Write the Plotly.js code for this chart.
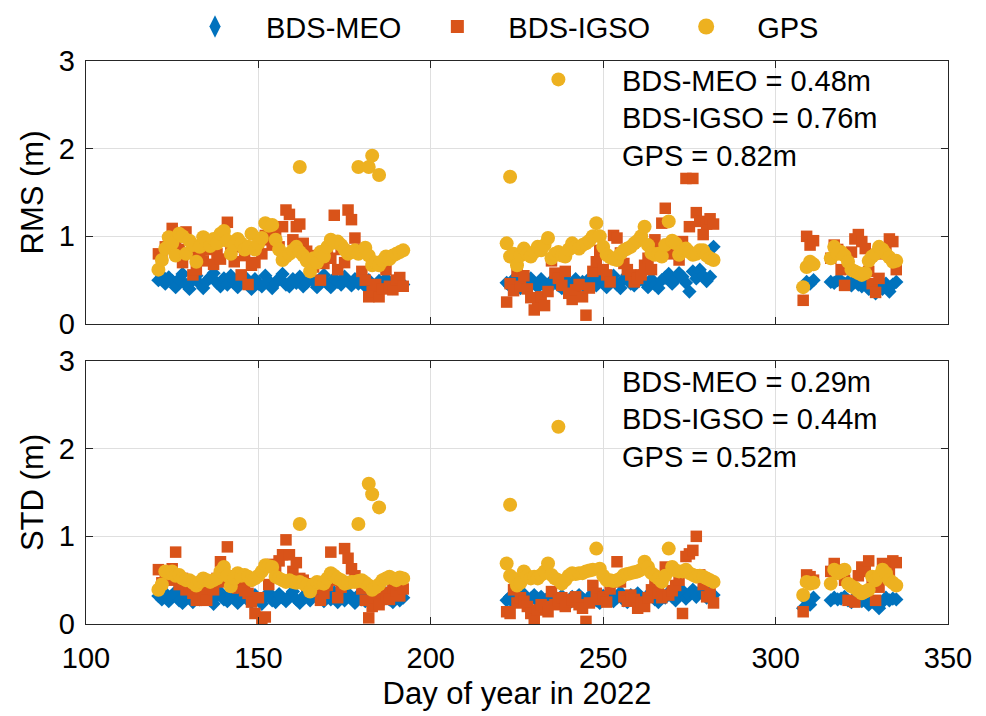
<!DOCTYPE html>
<html>
<head>
<meta charset="utf-8">
<script src="https://cdn.plot.ly/plotly-3.0.1.min.js"></script>
<style>html,body{margin:0;padding:0;background:#fff;}#chart{width:986px;height:716px;}</style>
</head>
<body>
<div id="chart"></div>
<script>
// ---- Days (day of year 2022) ----
const days1 = [121,122,123,124,125,126,127,128,129,130,131,132,133,134,135,136,137,138,139,140,
  141,142,143,144,145,146,147,148,149,150,151,152,153,154,155,156,157,158,159,160,
  161,162,163,164,165,166,167,168,169,170,171,172,173,174,175,176,177,178,179,180,
  181,182,183,184,185,186,187,188,189,190,191,192];
const days2 = [222,223,224,225,226,227,228,229,230,231,232,233,234,235,236,237,238,239,240,241,
  242,243,244,245,246,247,248,249,250,251,252,253,254,255,256,257,258,259,260,261,
  262,263,264,265,266,267,268,269,270,271,272,273,274,275,276,277,278,279,280,281,282];
const days3 = [308,309,310,311,316,317,318,319,320,321,322,323,324,325,326,327,328,329,330,331,332,333,334,335];

// ---- RMS (m) ----
const rmsMeo1 = [.50,.55,.46,.53,.49,.42,.51,.57,.45,.40,.50,.55,.46,.41,.49,.53,.58,.47,.43,.52,
  .45,.55,.50,.42,.48,.54,.45,.40,.51,.46,.43,.55,.49,.41,.47,.52,.57,.45,.43,.51,
  .47,.54,.43,.47,.55,.49,.42,.51,.56,.46,.42,.52,.48,.45,.54,.49,.44,.51,.46,.55,
  .43,.50,.45,.40,.49,.44,.52,.46,.41,.51,.48,.45];
const rmsMeo2 = [.47,.43,.51,.45,.41,.50,.44,.52,.47,.42,.51,.45,.40,.49,.52,.44,.41,.50,.47,.42,
  .51,.45,.48,.41,.52,.47,.44,.54,.48,.42,.50,.55,.45,.41,.51,.56,.46,.44,.52,.57,
  .48,.42,.51,.45,.41,.50,.53,.57,.46,.51,.58,.54,.47,.37,.60,.52,.62,.55,.49,.54,.88];
const rmsMeo3 = [.42,.48,.46,.50,.48,.47,.50,.49,.46,.48,.44,.50,.45,.43,.47,.40,.38,.35,.42,.40,.46,.37,.45,.48];

const rmsIgso1 = [.80,.75,.88,.96,1.09,.92,.85,.70,1.05,.81,.56,.62,.78,.72,.85,.90,.68,.80,.74,.95,
  1.16,.82,.71,.88,.56,.78,.45,.67,.70,.86,.80,1.01,.96,.90,1.05,.88,1.11,1.30,1.25,.96,
  1.11,1.14,.92,.83,.78,.65,.72,.50,.69,.80,.75,1.24,.62,.85,.70,1.30,1.19,.98,.85,.60,
  .50,.31,.37,.45,.31,.40,.62,.43,.39,.50,.53,.43];
const rmsIgso2 = [.25,.46,.38,.60,.43,.55,.40,.30,.16,.22,.31,.21,.37,.72,.58,.52,.44,.60,.35,.28,
  .39,.45,.31,.10,.41,.60,.71,.84,.62,.56,.48,1.01,.98,.81,.69,.62,.56,.48,.52,.56,
  .67,.75,.62,.96,.88,1.15,1.32,.88,.80,.85,.73,.94,1.66,1.11,1.66,1.27,1.17,1.02,1.14,1.20,1.14];
const rmsIgso3 = [.27,1.00,.90,.95,.75,.90,.85,.62,.44,.70,.82,.97,1.02,.94,.86,.60,.46,.36,.52,.80,.85,.97,.94,.62];

const rmsGps1 = [.62,.73,.86,.99,.92,.78,1.03,1.00,.80,.95,.90,.71,.88,.99,.94,.89,.97,.92,1.03,1.06,
  .95,.80,.90,.97,.92,.85,.88,1.03,.85,.92,.98,1.15,1.12,1.13,.96,.85,.73,.77,.80,.84,
  .88,.82,.78,.72,.60,.75,.70,.82,.77,.88,.96,.93,.94,.90,.85,.80,.82,.84,.80,.83,
  .87,.78,.67,.70,.67,.72,.77,.74,.78,.80,.82,.84];
const rmsGps2 = [.92,.77,.80,.67,.78,.86,.80,.77,.82,.88,.84,.90,.98,.75,.80,.82,.78,.77,.85,.92,
  .88,.86,.90,.92,.95,1.00,1.15,1.00,.88,.79,.76,.74,.73,.80,.84,.86,.88,.92,.95,1.00,
  1.11,.90,.81,.79,.80,.77,.90,1.17,.95,.92,.79,.85,.86,.82,.79,.80,.84,.84,.78,.75,.73];
const rmsGps3 = [.42,.65,.71,.68,.75,.88,.80,.82,.78,.71,.62,.60,.58,.56,.58,.72,.77,.80,.88,.85,.80,.76,.71,.72];
const rmsGpsOutDays = [162,179,182,183,185,223,237];
const rmsGpsOutVals = [1.79,1.79,1.79,1.92,1.70,1.68,2.79];

// ---- STD (m) ----
const stdMeo1 = [.32,.28,.35,.26,.31,.37,.27,.24,.34,.30,.25,.35,.28,.31,.38,.27,.23,.32,.36,.28,
  .26,.34,.30,.24,.31,.37,.27,.25,.33,.28,.23,.31,.36,.27,.25,.34,.30,.26,.32,.37,
  .28,.24,.31,.35,.27,.34,.39,.30,.26,.33,.28,.36,.25,.31,.27,.35,.30,.24,.33,.28,
  .26,.34,.30,.24,.31,.27,.35,.28,.25,.32,.27,.30];
const stdMeo2 = [.27,.31,.24,.32,.28,.34,.25,.29,.33,.26,.31,.24,.29,.34,.27,.25,.32,.28,.23,.31,
  .26,.33,.29,.25,.31,.35,.27,.24,.32,.28,.34,.26,.30,.36,.27,.25,.33,.28,.35,.30,
  .26,.32,.37,.28,.25,.34,.30,.36,.31,.27,.35,.38,.29,.33,.39,.31,.37,.34,.30,.36,.33];
const stdMeo3 = [.18,.27,.22,.30,.27,.30,.28,.29,.31,.27,.25,.30,.28,.26,.29,.22,.26,.24,.18,.25,.30,.27,.29,.28];

const stdIgso1 = [.62,.47,.55,.50,.63,.82,.45,.52,.39,.42,.35,.27,.40,.33,.27,.45,.39,.52,.71,.48,
  .88,.55,.50,.41,.46,.38,.35,.25,.12,.30,.05,.08,.45,.68,.62,.72,.79,.96,.79,.60,
  .70,.52,.50,.44,.38,.46,.40,.27,.35,.44,.82,.50,.30,.42,.86,.75,.63,.55,.48,.40,
  .27,.07,.20,.30,.22,.36,.33,.28,.41,.38,.32,.40];
const stdIgso2 = [.14,.12,.39,.24,.30,.26,.20,.12,.05,.16,.22,.20,.14,.37,.22,.27,.30,.20,.25,.28,
  .31,.22,.18,.03,.24,.44,.35,.28,.31,.25,.40,.50,.71,.48,.31,.26,.33,.28,.18,.25,
  .20,.30,.39,.45,.35,.30,.65,.33,.38,.44,.50,.12,.77,.80,.84,1.00,.56,.45,.31,.35,.24];
const stdIgso3 = [.14,.56,.54,.50,.60,.69,.62,.58,.50,.27,.45,.25,.55,.65,.60,.72,.48,.27,.42,.69,.55,.60,.72,.70];

const stdGps1 = [.39,.45,.60,.58,.60,.55,.56,.52,.50,.50,.47,.44,.48,.52,.50,.48,.50,.52,.60,.65,
  .55,.43,.52,.58,.55,.56,.54,.50,.52,.55,.60,.67,.66,.65,.54,.52,.50,.48,.50,.48,
  .47,.48,.46,.44,.37,.45,.48,.47,.46,.52,.58,.55,.52,.50,.46,.47,.48,.48,.49,.50,
  .47,.44,.39,.42,.45,.50,.52,.54,.52,.50,.53,.52];
const stdGps2 = [.69,.55,.52,.44,.47,.60,.55,.52,.54,.52,.56,.60,.69,.56,.52,.50,.46,.50,.55,.58,
  .57,.58,.58,.60,.61,.62,.86,.63,.55,.50,.50,.49,.50,.52,.56,.57,.58,.59,.60,.62,
  .71,.65,.58,.55,.52,.48,.55,.86,.65,.61,.60,.60,.62,.58,.56,.54,.55,.54,.52,.50,.48];
const stdGps3 = [.33,.48,.46,.47,.46,.62,.58,.60,.62,.46,.43,.41,.38,.35,.37,.39,.54,.50,.55,.62,.58,.50,.47,.44];
const stdGpsOutDays = [162,179,182,183,185,223,237];
const stdGpsOutVals = [1.14,1.14,1.60,1.48,1.33,1.36,2.25];

const seriesNames = ['BDS-MEO','BDS-IGSO','GPS'];
const rmsNotes = ['BDS-MEO = 0.48m','BDS-IGSO = 0.76m','GPS = 0.82m'];
const stdNotes = ['BDS-MEO = 0.29m','BDS-IGSO = 0.44m','GPS = 0.52m'];
const xTicks = [100,150,200,250,300,350];
const yTicks = [0,1,2,3];

// ---- build ----
const colors = ['#0072BD','#D95319','#EDB120'];
const symbols = ['diamond','square','circle'];
const sizes = [11,11.5,14];
const legSymbols = ['diamond-tall','square','circle'];
const legSizes = [16,13,16];
const allDays = days1.concat(days2, days3);

function mk(i, xs, ys, xa, ya){
  return {type:'scatter', mode:'markers', x:xs, y:ys, xaxis:xa, yaxis:ya,
    name:seriesNames[i], legendgroup:seriesNames[i], showlegend:false,
    marker:{color:colors[i], symbol:symbols[i], size:sizes[i], line:{width:0}},
    hoverinfo:'x+y'};
}
function leg(i){
  return {type:'scatter', mode:'markers', x:[null], y:[null], xaxis:'x', yaxis:'y',
    name:seriesNames[i], legendgroup:seriesNames[i], showlegend:true,
    marker:{color:colors[i], symbol:legSymbols[i], size:legSizes[i], line:{width:0}}};
}
const traces = [
  mk(0, allDays, rmsMeo1.concat(rmsMeo2, rmsMeo3), 'x', 'y'),
  mk(1, allDays, rmsIgso1.concat(rmsIgso2, rmsIgso3), 'x', 'y'),
  mk(2, allDays.concat(rmsGpsOutDays), rmsGps1.concat(rmsGps2, rmsGps3, rmsGpsOutVals), 'x', 'y'),
  mk(0, allDays, stdMeo1.concat(stdMeo2, stdMeo3), 'x2', 'y2'),
  mk(1, allDays, stdIgso1.concat(stdIgso2, stdIgso3), 'x2', 'y2'),
  mk(2, allDays.concat(stdGpsOutDays), stdGps1.concat(stdGps2, stdGps3, stdGpsOutVals), 'x2', 'y2'),
  leg(0), leg(1), leg(2)
];

const FONT = 'Liberation Sans, Arial, Helvetica, sans-serif';
const FS = 29;
const TFS = 31;
function axisBase(){
  return {showline:true, mirror:'ticks', linecolor:'#262626', linewidth:1.3,
    ticks:'inside', ticklen:7, tickwidth:1.3, tickcolor:'#262626',
    showgrid:true, gridcolor:'#dfdfdf', gridwidth:1, zeroline:false,
    tickfont:{family:FONT, size:FS, color:'#000'}};
}
const xa1 = Object.assign(axisBase(), {domain:[0,1], range:[100,350], tickvals:xTicks, showticklabels:false, anchor:'y'});
const xa2 = Object.assign(axisBase(), {domain:[0,1], range:[100,350], tickvals:xTicks, anchor:'y2',
  ticklabelstandoff:8,
  title:{text:'Day of year in 2022', font:{family:FONT, size:TFS, color:'#000'}, standoff:9}});
const ya1 = Object.assign(axisBase(), {domain:[0.5329,1], range:[0,3], tickvals:yTicks, anchor:'x',
  ticklabelstandoff:4,
  title:{text:'RMS (m)', font:{family:FONT, size:TFS, color:'#000'}, standoff:6}});
const ya2 = Object.assign(axisBase(), {domain:[0,0.4671], range:[0,3], tickvals:yTicks, anchor:'x2',
  ticklabelstandoff:4,
  title:{text:'STD (m)', font:{family:FONT, size:TFS, color:'#000'}, standoff:6}});

const annY1 = [0.9645,0.8988,0.8312];
const annY2 = [0.4298,0.3650,0.2966];
const annotations = [];
rmsNotes.forEach((t,i)=>annotations.push({xref:'paper', yref:'paper', x:0.6195, y:annY1[i], xanchor:'left', yanchor:'middle',
  text:t, showarrow:false, font:{family:FONT, size:FS, color:'#000'}}));
stdNotes.forEach((t,i)=>annotations.push({xref:'paper', yref:'paper', x:0.6195, y:annY2[i], xanchor:'left', yanchor:'middle',
  text:t, showarrow:false, font:{family:FONT, size:FS, color:'#000'}}));

const layout = {
  width:986, height:716,
  margin:{l:86, r:38, t:61, b:92, autoexpand:false},
  paper_bgcolor:'#fff', plot_bgcolor:'#fff',
  font:{family:FONT, size:FS, color:'#000'},
  xaxis:xa1, yaxis:ya1, xaxis2:xa2, yaxis2:ya2,
  showlegend:true,
  legend:{orientation:'h', x:0.0905, xanchor:'left', y:1.061, yanchor:'middle',
    font:{family:FONT, size:FS, color:'#000'}, itemwidth:92, bgcolor:'rgba(0,0,0,0)', borderwidth:0},
  annotations:annotations
};
Plotly.newPlot('chart', traces, layout, {staticPlot:true, displayModeBar:false});
</script>
</body>
</html>
